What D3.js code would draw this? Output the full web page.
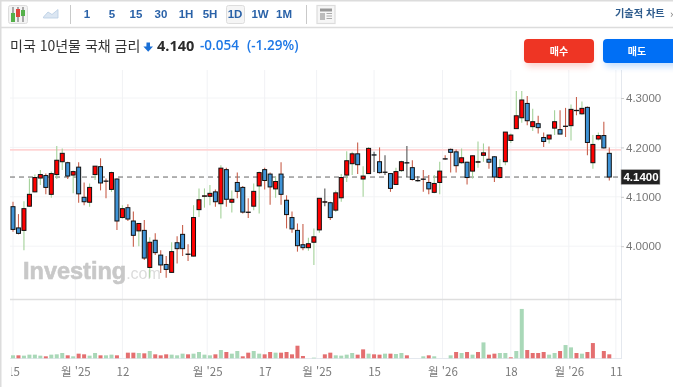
<!DOCTYPE html>
<html lang="ko"><head><meta charset="utf-8">
<style>html,body{margin:0;padding:0;background:#fff;overflow:hidden}svg{display:block;filter:blur(0.3px)}
text{font-family:"Noto Sans CJK KR","Noto Sans",sans-serif}</style>
<script src="https://cdn.jsdelivr.net/npm/d3@7/dist/d3.min.js"></script></head><body>
<script>
const opens=[4.080,4.037,4.032,4.081,4.110,4.138,4.143,4.105,4.145,4.171,4.169,4.144,4.160,4.099,4.089,4.145,4.161,4.132,4.115,4.136,4.058,4.078,4.051,4.031,4.032,3.957,4.012,3.982,3.963,3.947,4.007,4.024,3.984,3.980,4.074,4.101,4.101,4.110,4.086,4.155,4.089,4.129,4.119,4.069,4.081,4.122,4.155,4.146,4.116,4.146,4.093,4.058,4.032,4.003,3.997,4.008,4.033,4.089,4.088,4.073,4.098,4.144,4.167,4.187,4.136,4.147,4.185,4.171,4.150,4.147,4.125,4.153,4.169,4.159,4.133,4.136,4.129,4.109,4.129,4.177,4.196,4.191,4.169,4.170,4.152,4.170,4.184,4.176,4.181,4.139,4.171,4.214,4.238,4.260,4.289,4.242,4.248,4.220,4.217,4.239,4.236,4.243,4.244,4.275,4.268,4.281,4.169,4.217,4.224,4.188];
const highs=[4.090,4.065,4.091,4.137,4.145,4.154,4.147,4.151,4.203,4.198,4.171,4.153,4.170,4.129,4.127,4.162,4.178,4.137,4.151,4.137,4.083,4.085,4.070,4.046,4.053,4.018,4.026,3.992,3.980,4.008,4.020,4.043,4.004,4.083,4.117,4.117,4.124,4.115,4.164,4.159,4.113,4.149,4.122,4.097,4.127,4.151,4.159,4.149,4.141,4.170,4.103,4.070,4.046,4.045,4.017,4.036,4.097,4.117,4.090,4.113,4.146,4.192,4.191,4.210,4.162,4.201,4.191,4.200,4.184,4.147,4.159,4.173,4.203,4.174,4.142,4.154,4.144,4.144,4.171,4.184,4.198,4.196,4.198,4.171,4.184,4.212,4.208,4.202,4.182,4.176,4.231,4.228,4.314,4.314,4.304,4.278,4.264,4.230,4.225,4.275,4.275,4.280,4.287,4.302,4.293,4.283,4.225,4.230,4.252,4.200];
const lows=[4.029,4.024,3.992,4.080,4.109,4.124,4.105,4.098,4.136,4.154,4.136,4.107,4.088,4.083,4.080,4.134,4.113,4.097,4.110,4.033,4.056,4.051,3.999,4.000,3.972,3.936,3.982,3.946,3.936,3.946,3.965,3.980,3.970,3.979,4.059,4.078,4.083,4.080,4.056,4.080,4.068,4.097,4.066,4.057,4.073,4.066,4.115,4.084,4.098,4.084,4.036,4.027,3.989,3.992,3.991,3.962,4.027,4.081,4.053,4.069,4.090,4.130,4.144,4.146,4.100,4.147,4.150,4.147,4.144,4.110,4.125,4.150,4.140,4.133,4.131,4.110,4.105,4.107,4.105,4.175,4.149,4.149,4.167,4.125,4.137,4.159,4.171,4.157,4.130,4.137,4.164,4.209,4.237,4.250,4.245,4.233,4.228,4.201,4.208,4.225,4.227,4.221,4.214,4.265,4.266,4.184,4.157,4.214,4.198,4.133];
const closes=[4.034,4.026,4.076,4.105,4.139,4.145,4.119,4.147,4.174,4.188,4.142,4.151,4.106,4.090,4.119,4.162,4.128,4.132,4.149,4.051,4.076,4.055,4.022,4.046,3.976,4.008,3.987,3.962,3.953,3.989,3.995,3.995,3.984,4.058,4.094,4.102,4.107,4.090,4.158,4.095,4.095,4.111,4.069,4.069,4.111,4.149,4.133,4.120,4.131,4.105,4.064,4.035,4.001,3.997,4.005,4.019,4.097,4.090,4.058,4.108,4.139,4.173,4.187,4.165,4.142,4.198,4.185,4.149,4.150,4.117,4.151,4.171,4.169,4.135,4.133,4.136,4.116,4.127,4.152,4.177,4.190,4.163,4.179,4.139,4.183,4.171,4.189,4.170,4.140,4.159,4.231,4.225,4.264,4.296,4.254,4.252,4.240,4.212,4.225,4.252,4.227,4.243,4.277,4.275,4.279,4.210,4.206,4.224,4.199,4.140];
const volumes=[9,9,8,11,11,8,6,11,12,16,9,6,14,12,8,16,9,9,11,9,0,17,17,16,15,22,12,9,12,11,9,14,12,14,19,11,9,12,25,19,14,22,6,17,22,14,12,19,17,17,19,12,38,7,0,2,0,12,17,9,8,11,16,11,27,14,12,11,14,14,13,16,9,0,0,6,9,6,0,0,9,19,16,19,11,19,48,11,14,16,16,3,22,149,25,16,16,19,11,16,22,40,33,16,14,19,46,0,22,12];
const volumeRed=[0,1,0,0,0,0,1,0,0,0,1,0,1,1,0,0,1,0,0,1,0,1,1,0,1,0,1,1,1,0,0,0,1,0,0,0,0,1,0,1,0,0,1,1,0,0,1,1,0,1,1,1,1,1,0,0,0,1,1,0,0,0,0,1,1,0,1,1,0,1,0,0,1,0,0,0,1,0,0,0,0,1,0,1,0,1,0,1,1,0,0,1,0,0,1,1,1,1,0,0,1,0,0,1,0,1,1,0,1,1];
const neutralWicks=[57,66,68,72,74];
const priceTicks=[4.0,4.1,4.2,4.3];
const lastPrice=4.140, refPrice=4.195;
const dateTickPos=[0,11.4,20,35.5,46,55.5,66,78.5,91,101.6,110.2];
const dateTickLabels=["15","월 '25","12","월 '25","17","월 '25","15","월 '26","18","월 '26","11"];
const intervals=["1","5","15","30","1H","5H","1D","1W","1M"];
const intervalX=[87,112,136,161,186,210,235,260,284];

const W=673,H=387,plotR=621;
const svg=d3.select("body").append("svg").attr("width",W).attr("height",H);
const x=d3.scaleLinear().domain([0,109]).range([13,609.3]);
const y=d3.scaleLinear().domain([4.0,4.3]).range([246.2,98]);
const v=d3.scaleLinear().domain([0,150]).range([358.3,308.6]);
const idx=d3.range(opens.length);

// frame
const line=(x1,y1,x2,y2,c,w,extra)=>{const l=svg.append("line").attr("x1",x1).attr("y1",y1).attr("x2",x2).attr("y2",y2).attr("stroke",c).attr("stroke-width",w);if(extra)l.attr("stroke-dasharray",extra);return l;};
line(0,0,W,0,"#dcdcdc",3);
line(0,27.5,W,27.5,"#dcdcdc",1.5);
line(0.5,0,0.5,H,"#dcdcdc",2);

// grid
svg.append("g").selectAll("line").data(priceTicks).join("line").attr("x1",10).attr("x2",plotR)
  .attr("y1",d=>y(d)).attr("y2",d=>y(d)).attr("stroke","#f3f4f6");
svg.append("g").selectAll("line").data(dateTickPos).join("line").attr("x1",d=>x(d)).attr("x2",d=>x(d))
  .attr("y1",70).attr("y2",358).attr("stroke","#f1f2f5");
line(plotR+.5,70,plotR+.5,359,"#e4e8ee",1);
line(10,358.5,plotR,358.5,"#e4e8ee",1);
line(10,299.5,plotR,299.5,"#dedede",1.5);
line(10,y(refPrice),plotR,y(refPrice),"#ffd4d4",1.6);

// watermark
const wm=svg.append("text").attr("x",23).attr("y",279).attr("fill","#c8c8c8");
wm.append("tspan").text("Investing").style("font-family","Liberation Sans").style("font-size","23.5px").style("font-weight",700).attr("stroke","#c8c8c8").attr("stroke-width",.6);
wm.append("tspan").text(".com").style("font-family","Liberation Sans").style("font-size","16px").attr("fill","#dcdcdc");

// volume
svg.append("g").selectAll("rect").data(idx.filter(i=>volumes[i]>0)).join("rect")
  .attr("x",i=>x(i)-2).attr("width",4).attr("y",i=>v(volumes[i])).attr("height",i=>v(0)-v(volumes[i]))
  .attr("fill",i=>volumeRed[i]?"#e46f70":"#a9d8b8");

// last price dashed
line(10,y(lastPrice),plotR,y(lastPrice),"#666",1,"5,4");

// wicks
svg.append("g").selectAll("line").data(idx).join("line")
  .attr("x1",i=>x(i)).attr("x2",i=>x(i)).attr("y1",i=>y(highs[i])).attr("y2",i=>y(lows[i]))
  .attr("stroke-width",1.1)
  .attr("stroke",i=>neutralWicks.includes(i)?"#555":(closes[i]>opens[i]?"#a4d29a":"#c8604c"));
// bodies
svg.append("g").selectAll("rect").data(idx).join("rect")
  .attr("x",i=>x(i)-2).attr("width",4)
  .attr("y",i=>y(Math.max(opens[i],closes[i])))
  .attr("height",i=>Math.max(Math.abs(y(opens[i])-y(closes[i])),0.3))
  .attr("fill",i=>closes[i]>opens[i]?"#ff0000":"#3f93d6")
  .attr("stroke","#111").attr("stroke-width",1);

// axes
const yAxis=d3.axisRight(y).tickValues(priceTicks).tickFormat(d3.format(".4f")).tickSize(3).tickPadding(2);
const ya=svg.append("g").attr("transform",`translate(${plotR},0)`).call(yAxis);
ya.select(".domain").remove();
ya.selectAll("line").attr("stroke","#ccc");
ya.selectAll("text").attr("fill","#777").style("font-size","11.5px").style("font-family","Liberation Sans").style("font-weight",500);
const xAxis=d3.axisBottom(x).tickValues(dateTickPos).tickFormat((d,i)=>dateTickLabels[i]).tickSize(0).tickPadding(0);
svg.append("clipPath").attr("id","xc").append("rect").attr("x",11).attr("y",360).attr("width",620).attr("height",25);
const xa=svg.append("g").attr("clip-path","url(#xc)").append("g").attr("transform","translate(0,366)").call(xAxis);
xa.select(".domain").remove();
xa.selectAll("text").attr("y",0).attr("dy","0.85em").attr("fill","#7a7a7a").style("font-size","11.5px");

// last price box
svg.append("rect").attr("x",plotR).attr("y",y(lastPrice)-7.5).attr("width",39).attr("height",15).attr("fill","#222").attr("stroke","#bbb").attr("stroke-width",.6);
svg.append("text").attr("x",plotR+20).attr("y",y(lastPrice)).attr("dy","0.36em").attr("text-anchor","middle")
  .attr("fill","#fff").text(d3.format(".4f")(lastPrice)).style("font-size","11.5px").style("font-weight",700).style("font-family","Liberation Sans");

// toolbar
svg.append("rect").attr("x",226.5).attr("y",5.5).attr("width",18).attr("height",18).attr("rx",2).attr("fill","#f5f5f5").attr("stroke","#ddd");
svg.append("g").selectAll("text").data(intervals).join("text").attr("x",(d,i)=>intervalX[i]).attr("y",18).attr("text-anchor","middle")
  .attr("fill","#2a62a8").text(d=>d).style("font-size","11.5px").style("font-weight",700).style("font-family","Liberation Sans");
line(70.5,5,70.5,24,"#c9c9c9",1); line(306.5,5,306.5,24,"#c9c9c9",1);
// candle icon
svg.append("rect").attr("x",8.5).attr("y",5.5).attr("width",19).attr("height",18).attr("rx",2).attr("fill","#f3f3f3").attr("stroke","#ddd");
[[13,"#55b04a",13,9],[18,"#e0433a",9,8],[23,"#55b04a",10,6]].forEach(c=>{
  line(c[0],7,c[0],22,"#888",1.4);
  svg.append("rect").attr("x",c[0]-2).attr("y",c[2]).attr("width",4).attr("height",c[3]).attr("fill",c[1]);
});
// area icon
svg.append("path").attr("d","M43.5 17L48 12L52 14.5L58 9.5V18H43.5Z").attr("fill","#dbe6f2").attr("stroke","#b8cde3").attr("stroke-width",.8);
// news icon
svg.append("rect").attr("x",317).attr("y",5.5).attr("width",18).attr("height",18).attr("fill","#f6f6f6").attr("stroke","#ddd").attr("stroke-width",1.2);
svg.append("rect").attr("x",320).attr("y",8.5).attr("width",12).attr("height",3).attr("fill","#999");
svg.append("rect").attr("x",320).attr("y",13).attr("width",5).attr("height",7).attr("fill","#bbb");
[13.5,16,18.5].forEach(t=>line(326.5,t,332,t,"#aaa",1));
svg.append("text").attr("x",615).attr("y",17).attr("fill","#2c5a8c").text("기술적 차트").style("font-size","10.2px").style("font-weight",700);
svg.append("text").attr("x",670).attr("y",17.5).attr("fill","#777").text("›").style("font-size","11px");

// header
svg.append("text").attr("x",10).attr("y",51).attr("fill","#333").text("미국 10년물 국채 금리").style("font-size","14px");
svg.append("path").attr("d","M146.5 42.5h3.5v4h3l-4.8 5.2l-4.8-5.2h3z").attr("fill","#1a6fd6");
svg.append("text").attr("x",157).attr("y",51).attr("fill","#2b2b2b").text("4.140").style("font-size","14.5px").style("font-weight",700).style("font-family","Open Sans");
svg.append("text").attr("x",200).attr("y",50).attr("fill","#1e78e6").text("-0.054").style("font-size","13.5px").style("font-weight",600).style("font-family","Open Sans");
svg.append("text").attr("x",247).attr("y",50).attr("fill","#1e78e6").text("(-1.29%)").style("font-size","13.5px").style("font-weight",600).style("font-family","Open Sans");

// buttons
const defs=svg.append("defs");
const f=defs.append("filter").attr("id","sh").attr("x","-20%").attr("y","-30%").attr("width","140%").attr("height","180%");
f.append("feGaussianBlur").attr("stdDeviation",3);
[[524,70,"#ee3524","매수",559],[603,80,"#006ff5","매도",637]].forEach(b=>{
  svg.append("rect").attr("x",b[0]+2).attr("y",43).attr("width",b[1]-4).attr("height",24).attr("rx",4).attr("fill",b[2]).attr("opacity",.22).attr("filter","url(#sh)");
  svg.append("rect").attr("x",b[0]).attr("y",39).attr("width",b[1]).attr("height",24).attr("rx",4).attr("fill",b[2]);
  svg.append("text").attr("x",b[4]).attr("y",54.5).attr("text-anchor","middle").attr("fill","#fff").text(b[3]).style("font-size","10px").style("font-weight",700);
});
</script></body></html>
